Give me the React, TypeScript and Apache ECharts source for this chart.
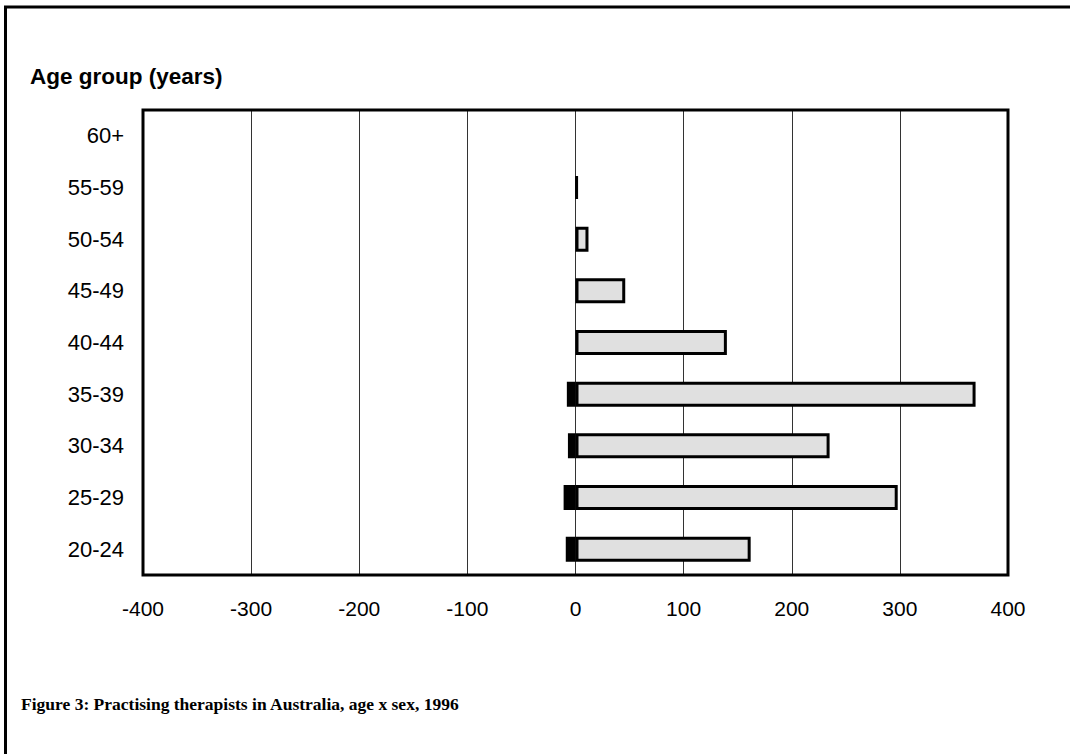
import React, { useEffect, useRef } from "react";
import * as echarts from "echarts";

const ageGroups = ["20-24", "25-29", "30-34", "35-39", "40-44", "45-49", "50-54", "55-59", "60+"];
const males = [-9, -11, -7, -8, 0, 0, 0, 0, 0];
const females = [162, 298, 235, 370, 140, 46, 12, 2, 0];
const xTicks = [-400, -300, -200, -100, 0, 100, 200, 300, 400];
const axisTitle = "Age group (years)";
const caption = "Figure 3: Practising therapists in Australia, age x sex, 1996";

export default function App() {
  const ref = useRef<HTMLDivElement>(null);
  useEffect(() => {
    if (!ref.current) return;
    const chart = echarts.init(ref.current, undefined, { renderer: "svg" });
    const hideZero = (arr: number[]) => arr.map((v) => (v === 0 ? "-" : v));
    chart.setOption({
      animation: false,
      backgroundColor: "#fff",
      grid: {
        left: 143,
        right: 62,
        top: 110,
        bottom: 179,
        show: true,
        borderColor: "#000",
        borderWidth: 3,
        backgroundColor: "transparent",
        z: 5,
      },
      xAxis: {
        type: "value",
        min: xTicks[0],
        max: xTicks[xTicks.length - 1],
        interval: 100,
        axisLine: { show: false },
        axisTick: { show: false },
        splitLine: { show: true, lineStyle: { color: "#333", width: 1 } },
        axisLabel: {
          color: "#000",
          fontSize: 21,
          fontFamily: "Liberation Sans, Arial, sans-serif",
          margin: 23,
        },
      },
      yAxis: {
        type: "category",
        data: ageGroups,
        axisLine: { show: false },
        axisTick: { show: false },
        splitLine: { show: false },
        axisLabel: {
          color: "#000",
          fontSize: 22,
          fontFamily: "Liberation Sans, Arial, sans-serif",
          margin: 19,
        },
      },
      series: [
        {
          name: "Males",
          type: "bar",
          stack: "total",
          barWidth: 25,
          data: hideZero(males),
          itemStyle: { color: "#000", borderColor: "#000", borderWidth: 3 },
          z: 3,
        },
        {
          name: "Females",
          type: "bar",
          stack: "total",
          barWidth: 25,
          data: hideZero(females),
          itemStyle: { color: "#e0e0e0", borderColor: "#000", borderWidth: 3 },
          z: 3,
        },
      ],
      graphic: [
        {
          type: "line",
          shape: { x1: 4, y1: 7, x2: 1070, y2: 7 },
          style: { stroke: "#000", lineWidth: 3 },
        },
        {
          type: "line",
          shape: { x1: 5.5, y1: 7, x2: 5.5, y2: 754 },
          style: { stroke: "#000", lineWidth: 3 },
        },
        {
          type: "text",
          x: 30,
          y: 76,
          style: {
            text: axisTitle,
            fill: "#000",
            fontSize: 22.5,
            fontWeight: "bold",
            fontFamily: "Liberation Sans, Arial, sans-serif",
            textVerticalAlign: "middle",
          },
        },
        {
          type: "text",
          x: 21,
          y: 704,
          style: {
            text: caption,
            fill: "#000",
            fontSize: 17.5,
            fontWeight: "bold",
            fontFamily: "Liberation Serif, Times New Roman, serif",
            textVerticalAlign: "middle",
          },
        },
      ],
    });
    return () => chart.dispose();
  }, []);
  return (
    <div
      ref={ref}
      style={{ position: "fixed", left: 0, top: 0, width: 1070, height: 754 }}
    />
  );
}
